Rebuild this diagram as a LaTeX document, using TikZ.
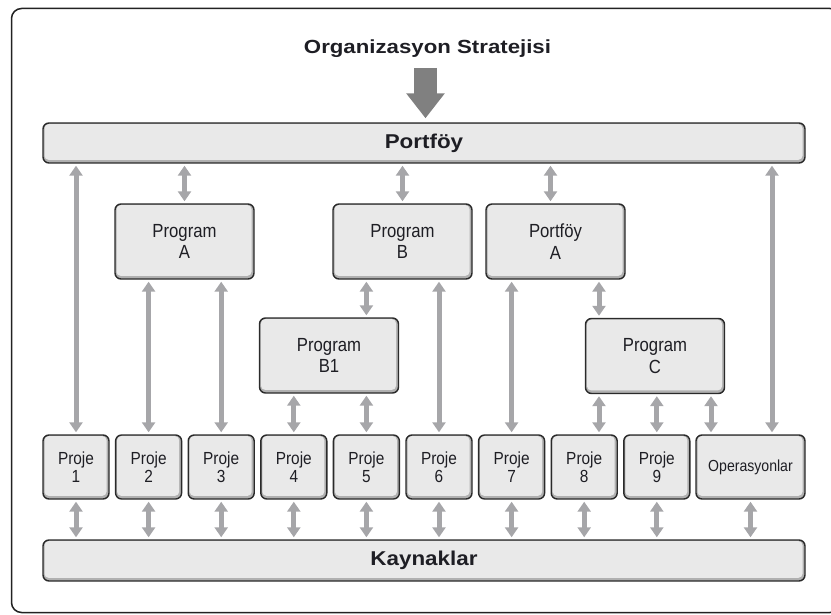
\documentclass[tikz,border=0pt]{standalone}
\usepackage{fontspec}
\setmainfont{Liberation Sans}
\newfontfamily\headfont[FakeStretch=1.12]{Liberation Sans}
\newfontfamily\titlefont[FakeStretch=1.17]{Liberation Sans}
\newfontfamily\bodyfont[FakeStretch=0.88]{Liberation Sans}
\usetikzlibrary{arrows.meta}

\definecolor{framecol}{HTML}{222222}
\definecolor{boxline}{HTML}{2A2A2A}
\definecolor{boxfill}{HTML}{E9E9E9}
\definecolor{boxshade}{HTML}{B0B0B0}
\definecolor{linkcol}{HTML}{A6A6A9}
\definecolor{bigcol}{HTML}{808080}
\definecolor{textcol}{HTML}{1E1E24}

\tikzset{
  panel/.style={draw=boxline, line width=1.4pt, fill=boxshade,
    rounded corners=6pt, inner sep=0pt, text=textcol, align=center,
    path picture={\fill[boxfill, rounded corners=4pt]
      ([shift={(1.5pt,3.2pt)}]path picture bounding box.south west) rectangle
      ([shift={(-2.5pt,-1.2pt)}]path picture bounding box.north east);}},
  bar/.style={panel, minimum width=762pt, minimum height=40pt,
    font={\headfont\bfseries\fontsize{20}{24}\selectfont}},
  progbox/.style={panel, minimum width=139pt, minimum height=75pt,
    font={\bodyfont\fontsize{19}{21.7}\selectfont}},
  projbox/.style={panel, minimum width=66pt, minimum height=64pt,
    font={\bodyfont\fontsize{17.5}{17.6}\selectfont}},
  link/.style={draw=linkcol, line width=5pt,
    {Triangle[width=13pt,length=10pt]}-{Triangle[width=13pt,length=10pt]},
    shorten <=2pt, shorten >=2pt},
  bigarrow/.style={draw=bigcol, line width=23pt,
    -{Triangle[width=37pt,length=25pt]}}
}

\begin{document}
\begin{tikzpicture}[x=1pt,y=-1pt]
  \useasboundingbox (0,0) rectangle (831,615);

  % outer frame
  \draw[framecol, line width=1.5pt, rounded corners=10pt]
    (11.5,8.5) rectangle (840,612.5);

  % title and the strategy arrow
  \node[text=textcol, font={\titlefont\bfseries\fontsize{19}{22}\selectfont}]
    (title) at (427.5,49) {Organizasyon Stratejisi};

  % top and bottom bars
  \node[bar] (portfoy) at (424,143) {Portföy};
  \node[bar, minimum height=41pt] (kaynak) at (424,560.5) {Kaynaklar};

  \coordinate (arrtop) at (425.5,68);
  \draw[bigarrow] (arrtop) -- (arrtop |- portfoy.north) [shorten >=4pt];

  % programs and sub-portfolio
  \node[progbox] (progA) at (184.5,241.5) {Program\\A};
  \node[progbox] (progB) at (402.5,241.5) {Program\\B};
  \node[progbox] (portA) at (555.5,241.5) {Portföy\\A};
  \node[progbox] (progB1) at (329,355.5) {Program\\B1};
  \node[progbox] (progC) at (655,356) {Program\\C};

  % projects and operations
  \foreach \i in {1,...,9}
    \node[projbox] (proj\i) at ({76+(\i-1)*72.6},467) {Proje\\\i};
  \node[projbox, minimum width=109pt,
        font={\bodyfont\fontsize{16}{18}\selectfont}] (ops) at (750.5,467) {Operasyonlar};

  % helper columns for off-centre links
  \coordinate (colPA) at ([xshift=-5pt]portA.north);
  \coordinate (colC) at (599,0);
  \coordinate (colOa) at (711,0);
  \coordinate (colOb) at (772,0);

  % links from the portfolio
  \draw[link] (portfoy.south -| proj1) -- (proj1.north);
  \draw[link] (portfoy.south -| progA) -- (progA.north);
  \draw[link] (portfoy.south -| progB) -- (progB.north);
  \draw[link] (portfoy.south -| colPA) -- (colPA);
  \draw[link] (portfoy.south -| colOb) -- (ops.north -| colOb);

  % program A
  \draw[link] (progA.south -| proj2) -- (proj2.north);
  \draw[link] (progA.south -| proj3) -- (proj3.north);

  % program B and B1
  \draw[link] (progB.south -| proj5) -- (progB1.north -| proj5);
  \draw[link] (progB.south -| proj6) -- (proj6.north);
  \draw[link] (progB1.south -| proj4) -- (proj4.north);
  \draw[link] (progB1.south -| proj5) -- (proj5.north);

  % portfolio A and program C
  \draw[link] (portA.south -| proj7) -- (proj7.north);
  \draw[link] (portA.south -| colC) -- (progC.north -| colC);
  \draw[link] (progC.south -| colC) -- (proj8.north -| colC);
  \draw[link] (progC.south -| proj9) -- (proj9.north);
  \draw[link] (progC.south -| colOa) -- (ops.north -| colOa);

  % links down to the resources
  \foreach \n in {proj1,proj2,proj3,proj4,proj5,proj6,proj7,proj8,proj9,ops}
    \draw[link] (\n.south) -- (kaynak.north -| \n);
\end{tikzpicture}
\end{document}
